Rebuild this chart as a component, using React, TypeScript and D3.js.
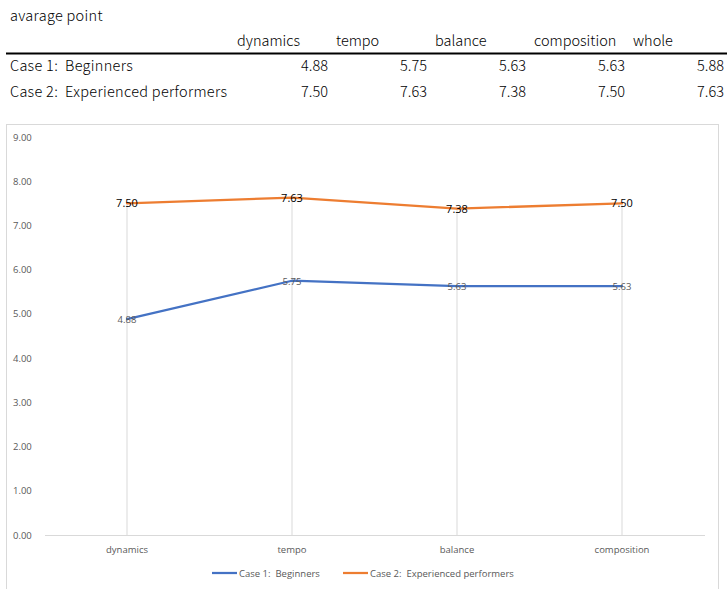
import React from "react";
import * as d3 from "d3";

const categories = ["dynamics", "tempo", "balance", "composition"];
const tableColumns = ["dynamics", "tempo", "balance", "composition", "whole"];
const seriesNames = ["Case 1:  Beginners", "Case 2:  Experienced performers"];
const beginners = [4.88, 5.75, 5.63, 5.63, 5.88];
const experienced = [7.5, 7.63, 7.38, 7.5, 7.63];
const yTicks = [0, 1, 2, 3, 4, 5, 6, 7, 8, 9];
const colors = ["#4472C4", "#ED7D31"];

const W = 727;
const H = 589;

const keepSpaces = (s: string) => s.replace(/ {2}/g, " \u00A0");

export default function App() {
  const x = d3.scalePoint<string>().domain(categories).range([127, 622]);
  const y = d3.scaleLinear().domain([0, 9]).range([535, 137]);
  const series = [beginners.slice(0, 4), experienced.slice(0, 4)];
  const line = d3
    .line<number>()
    .x((_, i) => x(categories[i]) as number)
    .y((d) => y(d));

  const tableFont = "'Noto Sans CJK JP', sans-serif";
  const chartFont = "'Open Sans', sans-serif";
  const colX = d3.scaleLinear().domain([0, 1]).range([237, 336]);
  const valRight = d3.scaleLinear().domain([0, 1]).range([328, 427]);

  return (
    <svg
      width={W}
      height={H}
      style={{ position: "absolute", left: 0, top: 0, background: "#fff" }}
    >
      {/* Table */}
      <g fontFamily={tableFont} fontSize={14.5} fontWeight={300} fill="#000">
        <text x={10} y={21} letterSpacing={0.3}>avarage point</text>
        {tableColumns.map((c, i) => (
          <text key={c} x={colX(i)} y={46}>{c}</text>
        ))}
        <line x1={6} x2={727} y1={53.5} y2={53.5} stroke="#000" strokeWidth={2} />
        <text x={10} y={71} letterSpacing={0.3}>{keepSpaces(seriesNames[0])}</text>
        <text x={10} y={97} letterSpacing={0.3}>{keepSpaces(seriesNames[1])}</text>
        {beginners.map((v, i) => (
          <text key={"b" + i} x={valRight(i)} y={71} textAnchor="end">{v.toFixed(2)}</text>
        ))}
        {experienced.map((v, i) => (
          <text key={"e" + i} x={valRight(i)} y={97} textAnchor="end">{v.toFixed(2)}</text>
        ))}
      </g>

      {/* Chart frame */}
      <rect x={6.5} y={124.5} width={712} height={480} fill="#fff" stroke="#D9D9D9" />

      {/* Y axis labels */}
      <g fontFamily={chartFont} fontSize={9.5} fill="#595959">
        {yTicks.map((t) => (
          <text key={t} x={13} y={y(t) + 3.5}>{t.toFixed(2)}</text>
        ))}
      </g>

      {/* Drop lines */}
      {categories.map((c, i) => (
        <line
          key={c}
          x1={x(c)}
          x2={x(c)}
          y1={y(Math.max(series[0][i], series[1][i]))}
          y2={y(0)}
          stroke="#D9D9D9"
          strokeWidth={1}
        />
      ))}

      {/* X axis */}
      <line x1={45} x2={705} y1={y(0) + 0.5} y2={y(0) + 0.5} stroke="#D9D9D9" />
      <g fontFamily={chartFont} fontSize={9.5} fill="#595959" textAnchor="middle">
        {categories.map((c) => (
          <text key={c} x={x(c)} y={553}>{c}</text>
        ))}
      </g>

      {/* Lines */}
      {series.map((s, k) => (
        <path
          key={k}
          d={line(s) || ""}
          fill="none"
          stroke={colors[k]}
          strokeWidth={2.25}
          strokeLinejoin="round"
          strokeLinecap="round"
        />
      ))}

      {/* Data labels */}
      <g fontFamily={chartFont} textAnchor="middle">
        {series[0].map((v, i) => (
          <text key={"lb" + i} x={x(categories[i])} y={y(v) + 4} fontSize={9.5} fill="#595959">
            {v.toFixed(2)}
          </text>
        ))}
        {series[1].map((v, i) => (
          <text key={"le" + i} x={x(categories[i])} y={y(v) + 4} fontSize={11} fill="#000">
            {v.toFixed(2)}
          </text>
        ))}
      </g>

      {/* Legend */}
      <g fontFamily={chartFont} fontSize={9.5} fill="#595959">
        <line x1={212} x2={237} y1={573} y2={573} stroke={colors[0]} strokeWidth={2.25} />
        <text x={239} y={576.5}>{keepSpaces(seriesNames[0])}</text>
        <line x1={343} x2={368} y1={573} y2={573} stroke={colors[1]} strokeWidth={2.25} />
        <text x={370} y={576.5}>{keepSpaces(seriesNames[1])}</text>
      </g>
    </svg>
  );
}
